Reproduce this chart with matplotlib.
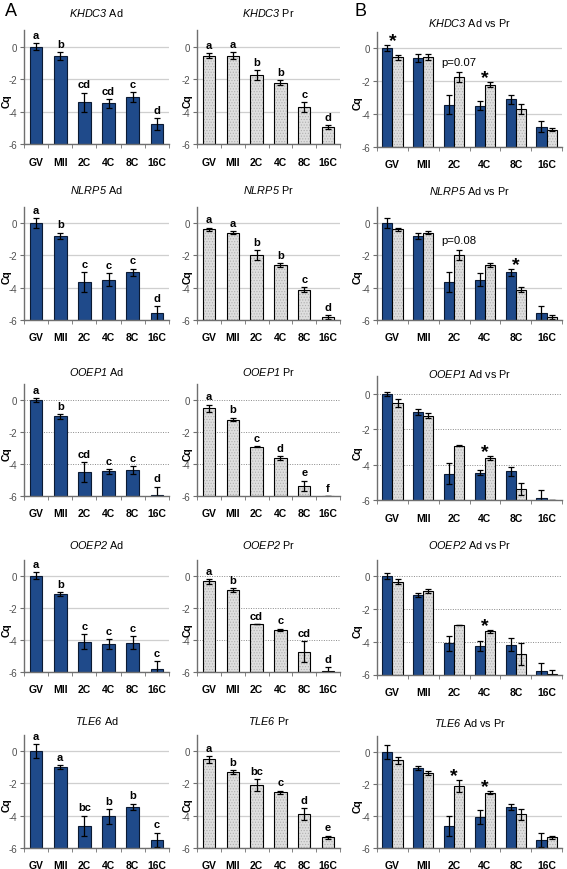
import numpy as np
import matplotlib
matplotlib.use('Agg')
import matplotlib.pyplot as plt

plt.rcParams['font.family'] = ['Liberation Sans', 'DejaVu Sans']
plt.rcParams['mathtext.fontset'] = 'custom'
plt.rcParams['mathtext.rm'] = 'Liberation Sans:italic'
plt.rcParams['mathtext.it'] = 'Liberation Sans:italic'
plt.rcParams['axes.unicode_minus'] = False
plt.rcParams['hatch.linewidth'] = 0.5

# stages of development
stages = ['GV', 'MII', '2C', '4C', '8C', '16C']
genes = ['KHDC3', 'NLRP5', 'OOEP1', 'OOEP2', 'TLE6']

# mean Cq and error, Ad (adult) and Pr (prepubertal)
khdc3_ad = [0.0, -0.6, -3.43, -3.49, -3.12, -4.76]
khdc3_ad_err = [0.2, 0.25, 0.6, 0.28, 0.3, 0.36]
khdc3_pr = [-0.56, -0.55, -1.76, -2.22, -3.72, -4.94]
khdc3_pr_err = [0.15, 0.2, 0.3, 0.15, 0.3, 0.12]

nlrp5_ad = [0.0, -0.79, -3.66, -3.5, -3.04, -5.57]
nlrp5_ad_err = [0.3, 0.2, 0.6, 0.4, 0.22, 0.45]
nlrp5_pr = [-0.39, -0.6, -1.99, -2.59, -4.12, -5.82]
nlrp5_pr_err = [0.1, 0.08, 0.32, 0.12, 0.15, 0.13]

ooep1_ad = [0.02, -1.02, -4.5, -4.46, -4.38, -5.91]
ooep1_ad_err = [0.12, 0.16, 0.62, 0.14, 0.25, 0.5]
ooep1_pr = [-0.51, -1.22, -2.92, -3.64, -5.37, -6.0]
ooep1_pr_err = [0.22, 0.12, 0.03, 0.11, 0.33, 0.0]

ooep2_ad = [0.0, -1.16, -4.1, -4.24, -4.18, -5.8]
ooep2_ad_err = [0.2, 0.12, 0.45, 0.3, 0.4, 0.5]
ooep2_pr = [-0.35, -0.91, -3.0, -3.37, -4.74, -5.96]
ooep2_pr_err = [0.15, 0.12, 0.0, 0.08, 0.66, 0.25]

tle6_ad = [0.0, -0.99, -4.62, -4.05, -3.45, -5.5]
tle6_ad_err = [0.42, 0.14, 0.62, 0.44, 0.2, 0.45]
tle6_pr = [-0.52, -1.32, -2.11, -2.55, -3.89, -5.34]
tle6_pr_err = [0.22, 0.12, 0.36, 0.1, 0.35, 0.1]

# significance letters
khdc3_ad_let = ['a', 'b', 'cd', 'cd', 'c', 'd']
khdc3_pr_let = ['a', 'a', 'b', 'b', 'c', 'd']
nlrp5_ad_let = ['a', 'b', 'c', 'c', 'c', 'd']
nlrp5_pr_let = ['a', 'a', 'b', 'b', 'c', 'd']
ooep1_ad_let = ['a', 'b', 'cd', 'c', 'c', 'd']
ooep1_pr_let = ['a', 'b', 'c', 'd', 'e', 'f']
ooep2_ad_let = ['a', 'b', 'c', 'c', 'c', 'c']
ooep2_pr_let = ['a', 'b', 'cd', 'c', 'cd', 'd']
tle6_ad_let = ['a', 'a', 'bc', 'b', 'b', 'c']
tle6_pr_let = ['a', 'b', 'bc', 'c', 'd', 'e']

# Ad vs Pr marks
khdc3_cmp = ['*', '', 'p=0.07', '*', '', '']
nlrp5_cmp = ['', '', 'p=0.08', '', '*', '']
ooep1_cmp = ['', '', '', '*', '', '']
ooep2_cmp = ['', '', '', '*', '', '']
tle6_cmp = ['', '', '*', '*', '', '']

ad_all = [khdc3_ad, nlrp5_ad, ooep1_ad, ooep2_ad, tle6_ad]
ad_err_all = [khdc3_ad_err, nlrp5_ad_err, ooep1_ad_err, ooep2_ad_err, tle6_ad_err]
pr_all = [khdc3_pr, nlrp5_pr, ooep1_pr, ooep2_pr, tle6_pr]
pr_err_all = [khdc3_pr_err, nlrp5_pr_err, ooep1_pr_err, ooep2_pr_err, tle6_pr_err]
ad_let_all = [khdc3_ad_let, nlrp5_ad_let, ooep1_ad_let, ooep2_ad_let, tle6_ad_let]
pr_let_all = [khdc3_pr_let, nlrp5_pr_let, ooep1_pr_let, ooep2_pr_let, tle6_pr_let]
cmp_all = [khdc3_cmp, nlrp5_cmp, ooep1_cmp, ooep2_cmp, tle6_cmp]

BLUE = '#1f4a8a'
GRAY = '#dedede'
AXC = '#6f6f6f'

W, H = 567, 870
fig = plt.figure(figsize=(W / 100, H / 100), dpi=100)

# layout in pixels: (y of 0, y of -6) per row, for columns A and B
rows_a = [(47.7, 145), (224, 321), (401, 497), (576.7, 673), (752, 849)]
rows_b = [(49, 148), (224, 321), (395, 501), (577, 675.5), (753, 849)]
title_y_a = [13, 190, 372, 545, 721]
title_y_b = [23, 191, 374, 545, 723]
cols_x = [(24, 169), (197, 340), (377, 562)]
cq_x = [7, 188, 358]  # centre of the "Cq" label, px
dotted = [[False] * 3, [False] * 3, [True] * 3, [False, True, True], [False] * 3]


def make_axes(x0, x1, y0, y6):
    u = (y6 - y0) / 6.0
    top = y0 - u
    return fig.add_axes([x0 / W, 1 - y6 / H, (x1 - x0) / W, (y6 - top) / H])


def style(ax, dot, c):
    ax.set_ylim(-6, 1)
    ax.set_xlim(-0.5, 5.5)
    ax.set_yticks([0, -2, -4, -6])
    ax.set_xticks(range(6))
    ax.set_xticklabels(stages, fontweight='bold', fontsize=7.5)
    ax.set_xticks(np.arange(-0.5, 6, 1), minor=True)
    ax.tick_params(axis='x', which='major', length=0, pad=9)
    ax.tick_params(axis='x', which='minor', length=3, direction='out', color=AXC)
    ax.tick_params(axis='y', length=3, direction='out', labelsize=7,
                   labelcolor='#505050', color=AXC, pad=2)
    for s in ['top', 'right']:
        ax.spines[s].set_visible(False)
    for s in ['left', 'bottom']:
        ax.spines[s].set_color(AXC)
        ax.spines[s].set_linewidth(1)
    if dot:
        ax.grid(axis='y', color='#8a8a8a', linestyle=(0, (1, 1.5)), linewidth=0.7)
    else:
        ax.grid(axis='y', color='#cfcfcf', linestyle='-', linewidth=0.9)
    ax.set_axisbelow(True)
    ax.set_ylabel('Cq', fontweight='bold', fontsize=7.5, va='center')
    w = cols_x[c][1] - cols_x[c][0]
    ax.yaxis.set_label_coords((cq_x[c] - cols_x[c][0]) / w, (6 - 3.3) / 7.0)


def gray_bars(ax, x, vals, width):
    v = np.array(vals)
    ax.bar(x, v + 6, bottom=-6, width=width, color=GRAY, edgecolor='#b0b0b0',
           hatch='......', linewidth=0)
    ax.bar(x, v + 6, bottom=-6, width=width, fill=False, edgecolor='black',
           linewidth=0.8)


def blue_bars(ax, x, vals, width):
    v = np.array(vals)
    ax.bar(x, v + 6, bottom=-6, width=width, color=BLUE, edgecolor='#0b1a33',
           linewidth=0.8)


x = np.arange(6)
for r, g in enumerate(genes):
    ad = np.array(ad_all[r])
    ade = np.array(ad_err_all[r])
    pr = np.array(pr_all[r])
    pre = np.array(pr_err_all[r])

    # column A, Ad
    ax = make_axes(*cols_x[0], *rows_a[r])
    style(ax, dotted[r][0], 0)
    blue_bars(ax, x, ad, 0.52)
    ax.errorbar(x, ad, yerr=ade, fmt='none', ecolor='black', elinewidth=0.9,
                capsize=2.5, capthick=0.9)
    for i, lt in enumerate(ad_let_all[r]):
        ax.text(i, ad[i] + ade[i] + 0.2, lt, ha='center', va='bottom',
                fontsize=8, fontweight='bold', clip_on=False)
    fig.text((cols_x[0][0] + cols_x[0][1]) / 2 / W, 1 - title_y_a[r] / H,
             r'$%s$ Ad' % g, ha='center', va='center', fontsize=7.8)

    # column A, Pr
    ax = make_axes(*cols_x[1], *rows_a[r])
    style(ax, dotted[r][1], 1)
    gray_bars(ax, x, pr, 0.52)
    ax.errorbar(x, pr, yerr=pre, fmt='none', ecolor='black', elinewidth=0.9,
                capsize=2.5, capthick=0.9)
    for i, lt in enumerate(pr_let_all[r]):
        ax.text(i, pr[i] + pre[i] + 0.2, lt, ha='center', va='bottom',
                fontsize=8, fontweight='bold', clip_on=False)
    fig.text((cols_x[1][0] + cols_x[1][1]) / 2 / W, 1 - title_y_a[r] / H,
             r'$%s$ Pr' % g, ha='center', va='center', fontsize=7.8)

    # column B, Ad vs Pr
    ax = make_axes(*cols_x[2], *rows_b[r])
    style(ax, dotted[r][2], 2)
    bw = 0.33
    blue_bars(ax, x - bw / 2, ad, bw)
    gray_bars(ax, x + bw / 2, pr, bw)
    ax.errorbar(x - bw / 2, ad, yerr=ade, fmt='none', ecolor='black',
                elinewidth=0.9, capsize=2.5, capthick=0.9)
    ax.errorbar(x + bw / 2, pr, yerr=pre, fmt='none', ecolor='black',
                elinewidth=0.9, capsize=2.5, capthick=0.9)
    for i, m in enumerate(cmp_all[r]):
        if not m:
            continue
        top = max(ad[i] + ade[i], pr[i] + pre[i])
        if m == '*':
            ax.text(i, top + 0.0, m, ha='center', va='baseline', fontsize=14,
                    fontweight='bold', clip_on=False)
        else:
            ax.text(i + 0.15, top + 0.3, m, ha='center', va='bottom',
                    fontsize=8.2, clip_on=False)
    fig.text((cols_x[2][0] + cols_x[2][1]) / 2 / W, 1 - title_y_b[r] / H,
             r'$%s$ Ad vs Pr' % g, ha='center', va='center', fontsize=7.8)

fig.text(5 / W, 1 - 11 / H, 'A', fontsize=13, va='center', ha='left')
fig.text(354 / W, 1 - 11 / H, 'B', fontsize=13, va='center', ha='left')

fig.savefig('out.png', dpi=100)
